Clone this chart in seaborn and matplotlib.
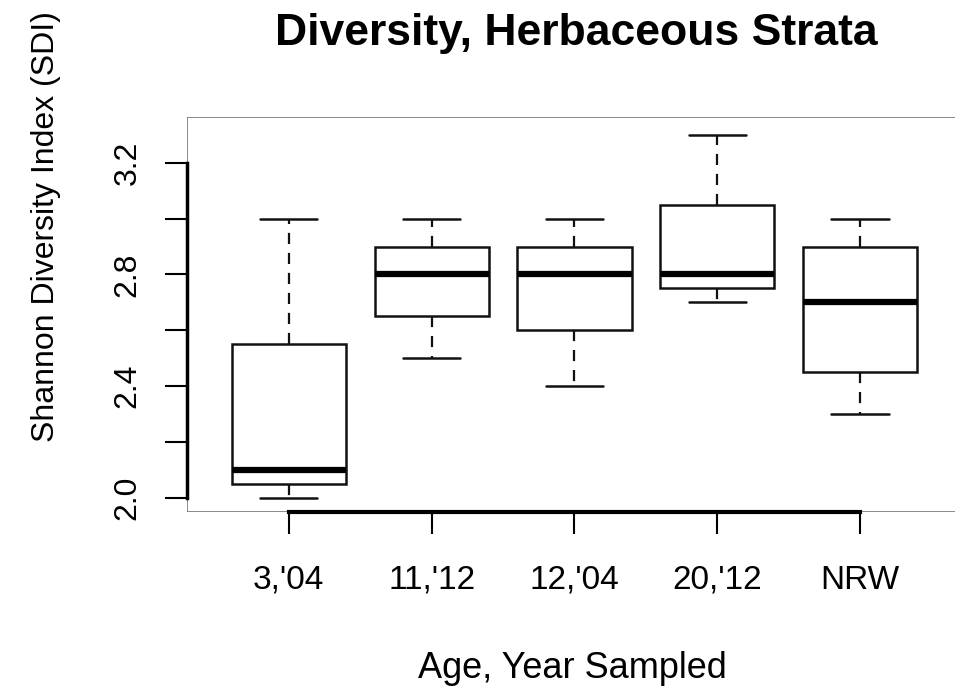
import numpy as np
import pandas as pd
import matplotlib
matplotlib.use('Agg')
import matplotlib.pyplot as plt
import seaborn as sns
from matplotlib.patches import Rectangle

# five-number summaries (whisker low, Q1, median, Q3, whisker high)
groups = ["3,'04", "11,'12", "12,'04", "20,'12", "NRW"]
whisker_low = [2.00, 2.50, 2.40, 2.70, 2.30]
q1 = [2.05, 2.65, 2.60, 2.75, 2.45]
median = [2.10, 2.80, 2.80, 2.80, 2.70]
q3 = [2.55, 2.90, 2.90, 3.05, 2.90]
whisker_high = [3.00, 3.00, 3.00, 3.30, 3.00]

y_ticks = [2.0, 2.2, 2.4, 2.6, 2.8, 3.0, 3.2]
y_ticklabels = ['2.0', '', '2.4', '', '2.8', '', '3.2']

# long table: with 5 points per group the quartiles land exactly on the summary values
rows = []
for i, g in enumerate(groups):
    for v in [whisker_low[i], q1[i], median[i], q3[i], whisker_high[i]]:
        rows.append({'group': g, 'sdi': v})
df = pd.DataFrame(rows)

sns.set_theme(style='white')
plt.rcParams['font.family'] = ['Liberation Sans', 'DejaVu Sans']
plt.rcParams['text.color'] = 'black'
plt.rcParams['axes.labelcolor'] = 'black'

fig = plt.figure(figsize=(9.55, 6.96), dpi=100)
ax = fig.add_axes([187 / 955, 184 / 696, 813 / 955, 395 / 696])

sns.boxplot(data=df, x='group', y='sdi', order=groups, ax=ax,
            width=0.8, whis=(0, 100), color='white', linecolor='#111111',
            linewidth=1.8, fliersize=0,
            medianprops={'linewidth': 4.5, 'color': 'black'},
            whiskerprops={'linestyle': (0, (5, 4)), 'linewidth': 1.6})

ax.set_xlim(-0.713, 4.98)
ax.set_ylim(1.948, 3.365)

# R-style axes: thick axis lines only over the tick range, thin grey frame
for side in ['top', 'right']:
    ax.spines[side].set_visible(False)
ax.add_patch(Rectangle((0, 0), 1, 1, transform=ax.transAxes, fill=False,
                       edgecolor='#777777', linewidth=1.2, zorder=0))
ax.spines['left'].set_bounds(2.0, 3.2)
ax.spines['left'].set_linewidth(2.5)
ax.spines['left'].set_color('black')
ax.spines['bottom'].set_bounds(0, 4)
ax.spines['bottom'].set_linewidth(3)
ax.spines['bottom'].set_color('black')

ax.set_yticks(y_ticks)
ax.set_yticklabels(y_ticklabels)
ax.tick_params(axis='both', which='major', direction='out', length=16, width=1.5,
               color='black', labelcolor='black', left=True, bottom=True)
ax.tick_params(axis='y', labelsize=23, pad=16, labelrotation=90)
ax.tick_params(axis='x', labelsize=24, pad=22)
for lab in ax.get_yticklabels():
    lab.set_va('center')

ax.set_xlabel('Age, Year Sampled', fontsize=26, va='baseline', color='black')
ax.xaxis.set_label_coords(0.4736, -0.420)
ax.set_ylabel('Shannon Diversity Index (SDI)', fontsize=23, va='center', color='black')
ax.yaxis.set_label_coords(-0.173, 0.7215)

fig.text(576 / 955, 1 - 45 / 696, 'Diversity, Herbaceous Strata', ha='center',
         va='baseline', fontsize=32, fontweight='bold', color='black')

fig.savefig('out.png', dpi=100)
